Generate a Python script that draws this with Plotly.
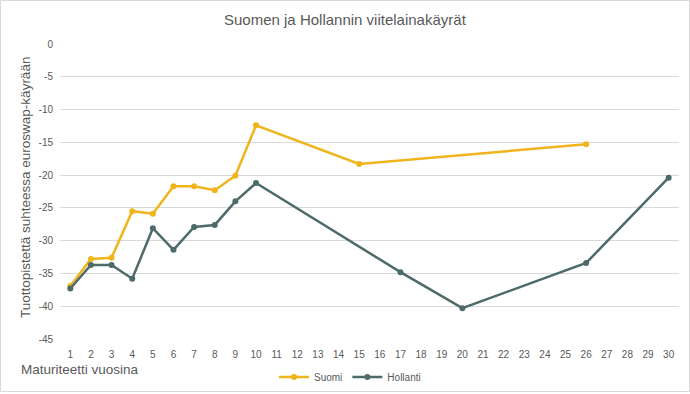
import plotly.graph_objects as go

categories = [str(i) for i in range(1, 31)]

suomi_x = ["1", "2", "3", "4", "5", "6", "7", "8", "9", "10", "15", "26"]
suomi_y = [-36.9, -32.8, -32.6, -25.5, -25.9, -21.7, -21.7, -22.3, -20.1, -12.4, -18.3, -15.3]

hollanti_x = ["1", "2", "3", "4", "5", "6", "7", "8", "9", "10", "17", "20", "26", "30"]
hollanti_y = [-37.3, -33.7, -33.7, -35.8, -28.1, -31.4, -27.9, -27.6, -24.0, -21.2, -34.8, -40.3, -33.4, -20.4]

y_ticks = [0, -5, -10, -15, -20, -25, -30, -35, -40, -45]
y_ticktext = [str(v) for v in y_ticks]

title = "Suomen ja Hollannin viitelainakäyrät"
y_title = "Tuottopistettä suhteessa euroswap-käyrään"
x_title = "Maturiteetti vuosina"

GOLD = "#F0B41C"
SLATE = "#4D6B6A"
TXT = "#595959"
FONT = "Liberation Sans"

fig = go.Figure()
fig.add_trace(go.Scatter(x=suomi_x, y=suomi_y, name="Suomi", mode="lines+markers",
                         line=dict(color=GOLD, width=2.5), marker=dict(size=6, color=GOLD)))
fig.add_trace(go.Scatter(x=hollanti_x, y=hollanti_y, name="Hollanti", mode="lines+markers",
                         line=dict(color=SLATE, width=2.5), marker=dict(size=6, color=SLATE)))

L, R, T, B = 60, 11, 44, 55
W, H = 690, 394
pw = W - L - R
ph = H - T - B

def px(x):
    return (x - L) / pw

def py(y):
    return (H - B - y) / ph

fig.update_layout(
    width=W, height=H,
    margin=dict(l=L, r=R, t=T, b=B, autoexpand=False),
    paper_bgcolor="white", plot_bgcolor="white",
    font=dict(family=FONT, color=TXT, size=10),
    showlegend=True,
    legend=dict(orientation="h", x=px(350), xanchor="center", y=py(377), yanchor="middle",
                font=dict(size=10, color=TXT), bgcolor="rgba(0,0,0,0)"),
    xaxis=dict(type="category", categoryorder="array", categoryarray=categories,
               range=[-0.5, 29.5], showgrid=False, zeroline=False, showline=False,
               ticks="", tickfont=dict(size=10, color=TXT), tickangle=0, automargin=False,
               ticklabelstandoff=8),
    yaxis=dict(range=[-45, 0], tickvals=y_ticks, ticktext=y_ticktext, showgrid=True,
               gridcolor="#D9D9D9", gridwidth=1, zeroline=False, showline=False,
               ticks="", tickfont=dict(size=10, color=TXT), ticklabelstandoff=6, automargin=False),
    annotations=[
        dict(text=title, x=px(345), y=py(20), xref="paper", yref="paper", showarrow=False,
             xanchor="center", yanchor="middle", font=dict(size=15, color=TXT, family=FONT)),
        dict(text=y_title, x=px(25), y=py(188), xref="paper", yref="paper", showarrow=False,
             textangle=-90, xanchor="center", yanchor="middle",
             font=dict(size=13.5, color=TXT, family=FONT)),
        dict(text=x_title, x=px(19), y=py(370), xref="paper", yref="paper", showarrow=False,
             xanchor="left", yanchor="middle", font=dict(size=13.5, color=TXT, family=FONT)),
    ],
    shapes=[
        dict(type="rect", xref="paper", yref="paper",
             x0=px(0.5), x1=px(689.5), y0=py(391.5), y1=py(0.5),
             line=dict(color="#D9D9D9", width=1), fillcolor="rgba(0,0,0,0)", layer="below"),
    ],
)

fig.write_html("out.html", config={"displayModeBar": False},
               post_script="document.body.style.margin='0';document.body.style.overflow='hidden';")
